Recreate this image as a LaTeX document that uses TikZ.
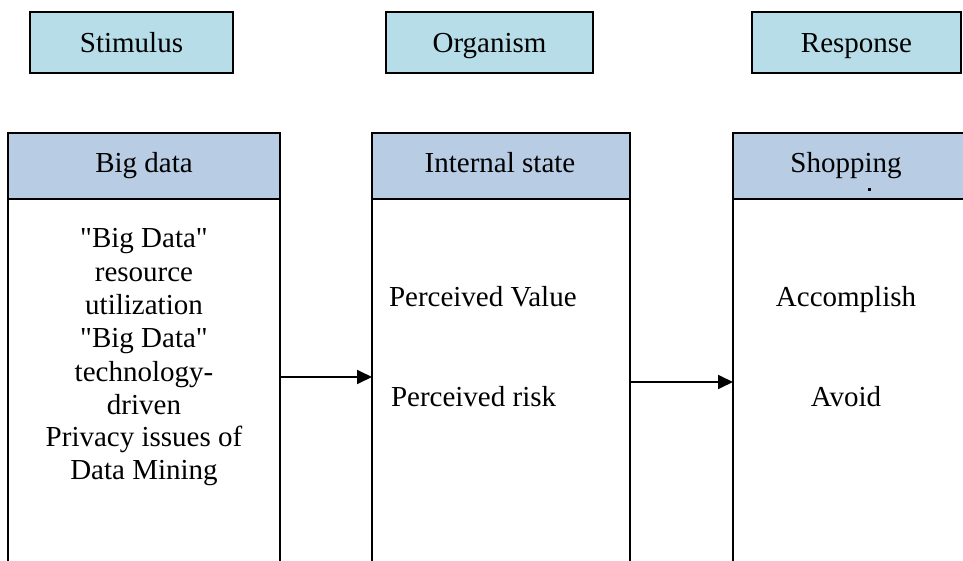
\documentclass[tikz,border=0pt]{standalone}
\usepackage{fontspec}
\setmainfont{Liberation Serif}
\usetikzlibrary{arrows.meta}
\definecolor{topfill}{HTML}{B7DDE8}
\definecolor{headfill}{HTML}{B8CCE4}
\newcommand\sdq{\XeTeXglyph\XeTeXcharglyph34\relax}
\begin{document}
\begin{tikzpicture}[x=1pt,y=-1pt,
  every node/.style={font=\fontsize{29}{33.5}\selectfont, inner sep=0pt, outer sep=0pt},
  topbox/.style={draw, line width=1.5pt, fill=topfill, minimum height=61pt, anchor=north west,
    text height=24pt, text depth=3pt},
  colbox/.style={draw, line width=1.5pt, fill=white, anchor=north west, minimum height=520pt},
  headbox/.style={draw, line width=1.5pt, fill=headfill, anchor=north west, minimum height=66pt},
  lbl/.style={align=center},
  txt/.style={anchor=base},
  arr/.style={line width=1.8pt, -{Triangle[length=15pt,width=14pt]}}]
\useasboundingbox (0,0) rectangle (963,561);
\clip (0,0) rectangle (963,561);
% top labels
\node[topbox, minimum width=203pt] (stim) at (30,12) {Stimulus};
\node[topbox, minimum width=207pt] (org) at (386,12) {Organism};
\node[topbox, minimum width=209pt] (resp) at (752,12) {Response};
% columns
\node[colbox, minimum width=272pt] (bigbody) at (8,133) {};
\node[colbox, minimum width=258pt] (intbody) at (372,133) {};
\node[colbox, minimum width=250pt] (shopbody) at (733,133) {};
\node[headbox, minimum width=272pt] (bighead) at (8,133) {};
\node[headbox, minimum width=258pt] (inthead) at (372,133) {};
\node[headbox, minimum width=250pt] (shophead) at (733,133) {};
\node[txt] (bigt) at (144,173) {Big data};
\node[txt] (intt) at (500,173) {Internal state};
\node[txt] (shopt) at (846,173) {Shopping};
\fill (868,188) rectangle (871,191);
% texts
\node[lbl] (b1) at (144,272) {\sdq Big Data\sdq\\resource\\utilization};
\node[lbl] (b2) at (144,372) {\sdq Big Data\sdq\\technology-\\driven};
\node[lbl] (b3) at (144,456) {Privacy issues of\\Data Mining};
\node[txt, anchor=base west] (pv) at (389,306) {Perceived Value};
\node[txt, anchor=base west] (pr) at (391,406) {Perceived risk};
\node[txt] (acc) at (846,306) {Accomplish};
\node[txt] (av) at (846,406) {Avoid};
% arrows
\coordinate (a1) at (300,377);
\coordinate (a2) at (680,382);
\draw[arr] (bigbody.east |- a1) -- (intbody.west |- a1);
\draw[arr] (intbody.east |- a2) -- (shopbody.west |- a2);
\end{tikzpicture}
\end{document}
